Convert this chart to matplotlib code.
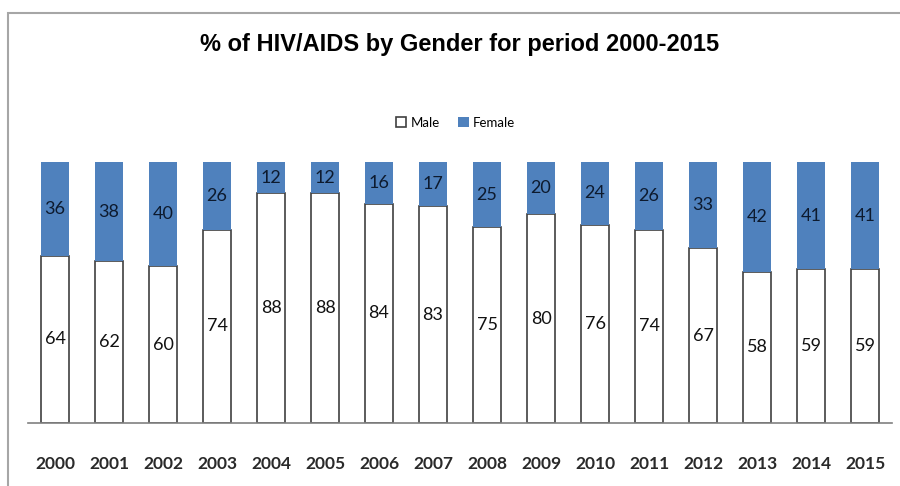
import matplotlib
matplotlib.use('Agg')
import numpy as np
from matplotlib import pyplot as plt
from matplotlib.patches import Rectangle

years = ['2000', '2001', '2002', '2003', '2004', '2005', '2006', '2007',
         '2008', '2009', '2010', '2011', '2012', '2013', '2014', '2015']
male = [64, 62, 60, 74, 88, 88, 84, 83, 75, 80, 76, 74, 67, 58, 59, 59]
female = [36, 38, 40, 26, 12, 12, 16, 17, 25, 20, 24, 26, 33, 42, 41, 41]

blue = '#4f81bd'

fig = plt.figure(figsize=(9, 4.86), dpi=100)
# chart frame
fig.patches.append(Rectangle((8 / 900, -0.1), 1.1, 0.1 + (486 - 13) / 486,
                             transform=fig.transFigure, fill=False,
                             edgecolor='#a6a6a6', linewidth=1.5))

ax = fig.add_axes([28 / 900, 63 / 486, 864 / 900, 261 / 486])
x = np.arange(len(years))
b1 = ax.bar(x, male, width=0.52, color='white', edgecolor='#404040',
            linewidth=1.2, label='Male')
b2 = ax.bar(x, female, width=0.52, bottom=male, color=blue,
            edgecolor=blue, linewidth=0, label='Female')

for i in range(len(years)):
    ax.text(x[i], male[i] / 2, str(male[i]), ha='center', va='center',
            fontsize=13, family='Lato', color='#111111')
    ax.text(x[i], male[i] + female[i] / 2, str(female[i]), ha='center',
            va='center', fontsize=13, family='Lato', color='#0d1a2e')

ax.set_xlim(-0.5, len(years) - 0.5)
ax.set_ylim(0, 100)
ax.set_xticks(x)
ax.set_xticklabels(years, fontsize=12.5, family='Lato', fontweight='bold',
                   color='#2a2a2a')
ax.tick_params(axis='x', length=0, pad=24)
ax.set_yticks([])
for s in ['top', 'right', 'left']:
    ax.spines[s].set_visible(False)
ax.spines['bottom'].set_color('#808080')
ax.spines['bottom'].set_linewidth(1.2)

fig.text(0.511, 1 - 45 / 486, '% of HIV/AIDS by Gender for period 2000-2015',
         ha='center', va='center', fontsize=17, fontweight='bold',
         family='Liberation Sans', color='black')

fig.legend(handles=[b1, b2], labels=['Male', 'Female'], loc='center',
           bbox_to_anchor=(0.506, 1 - 123 / 486), ncol=2, frameon=False,
           handlelength=0.8, handleheight=0.8,
           handletextpad=0.3, columnspacing=1.4,
           prop={'family': 'Lato', 'size': 9.5})

fig.savefig('out.png', dpi=100)
